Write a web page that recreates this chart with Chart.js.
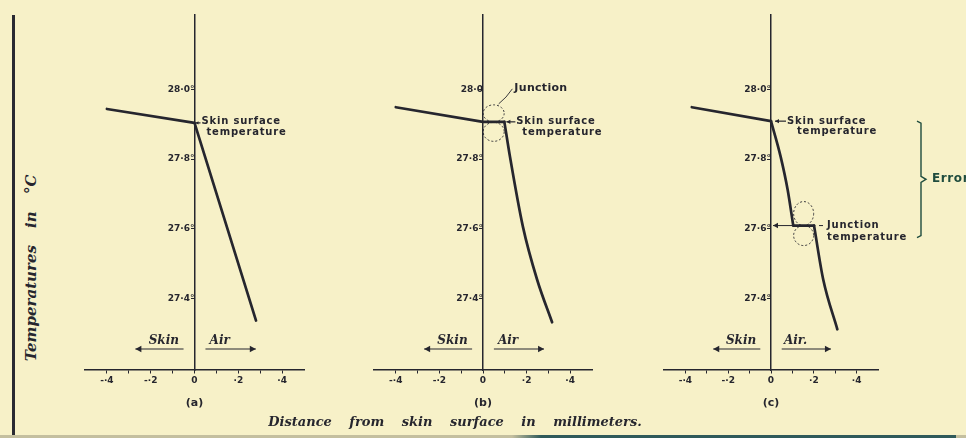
<!DOCTYPE html>
<html>
<head>
<meta charset="utf-8">
<script src="https://cdn.jsdelivr.net/npm/chart.js@4.4.0/dist/chart.umd.min.js"></script>
<style>
  html, body { margin: 0; padding: 0; }
  body { width: 966px; height: 438px; background: #f7f1c8; position: relative; overflow: hidden; }
  canvas.panel { position: absolute; left: 0; top: 0; }
  #frame { position: absolute; left: 12px; top: 15px; width: 3px; height: 423px; background: #2a2a32; }
  #edge { position: absolute; left: 0; top: 435px; width: 966px; height: 3px;
          background: linear-gradient(to right, #c4bf9f 0, #c4bf9f 53%, #2f5a5a 56%, #2f5a5a 99%, #c4bf9f 99%); }
  #ytitle { position: absolute; left: 31px; top: 268px; transform: translate(-50%, -50%) rotate(-90deg);
            font: italic bold 15px 'DejaVu Serif', serif; color: #26262e; white-space: nowrap; word-spacing: 12px; }
  #caption { position: absolute; left: 455px; top: 421px; transform: translate(-50%, -50%);
             font: italic bold 13px 'DejaVu Serif', serif; color: #26262e; white-space: nowrap; word-spacing: 13px; }
</style>
</head>
<body>
<div id="frame"></div>
<div id="ytitle">Temperatures in °C</div>
<canvas id="chartA" class="panel" width="966" height="438"></canvas>
<canvas id="chartB" class="panel" width="966" height="438"></canvas>
<canvas id="chartC" class="panel" width="966" height="438"></canvas>
<div id="caption">Distance from skin surface in millimeters.</div>
<div id="edge"></div>
<script>
// axes
const yMin = 27.194;
const yMax = 28.214;
const yTicks = [27.4, 27.6, 27.8, 28.0];
const yTickLabelsA = ['27·4°', '27·6°', '27·8°', '28·0°'];
const yTickLabelsB = ['27·4°', '27·6°', '27·8°', '28·0'];
const yTickLabelsC = ['27·4°', '27·6°', '27·8°', '28·0°'];
const xTicks = [-0.4, -0.3, -0.2, -0.1, 0, 0.1, 0.2, 0.3, 0.4];
const xTickLabels = ['-·4', '', '-·2', '', '0', '', '·2', '', '·4'];

// temperature profiles (distance in mm, temperature in °C)
const distA = [-0.4, 0, 0.281];
const tempA = [27.944, 27.904, 27.336];
const distB = [-0.4, 0, 0.098, 0.124, 0.183, 0.248, 0.317];
const tempB = [27.949, 27.907, 27.907, 27.806, 27.606, 27.454, 27.331];
const distC = [-0.37, 0, 0.045, 0.078, 0.104, 0.201, 0.244, 0.31];
const tempC = [27.949, 27.909, 27.807, 27.711, 27.609, 27.609, 27.454, 27.311];

// pieces of each profile: [first index, last index, curved?]
const piecesA = [[0, 2, false]];
const piecesB = [[0, 2, false], [2, 6, true]];
const piecesC = [[0, 1, false], [1, 4, true], [4, 5, false], [5, 7, true]];

const ink = '#26262e';
const teal = '#1f4c3e';
Chart.defaults.font.family = "'DejaVu Sans', sans-serif";

function arrow(ctx, x1, y, x2, head) {
  ctx.beginPath();
  ctx.moveTo(x1, y);
  ctx.lineTo(x2, y);
  ctx.stroke();
  const d = x2 > x1 ? -1 : 1;
  ctx.beginPath();
  ctx.moveTo(x2, y);
  ctx.lineTo(x2 + d * head, y - head * 0.55);
  ctx.lineTo(x2 + d * head, y + head * 0.55);
  ctx.closePath();
  ctx.fill();
}

function notes(panel) {
  return {
    id: 'notes' + panel,
    afterDraw(chart) {
      const ctx = chart.ctx;
      const px = v => chart.scales.x.getPixelForValue(v);
      const py = v => chart.scales.y.getPixelForValue(v);
      const axisY = py(yMin);
      ctx.save();
      ctx.fillStyle = ink;
      ctx.strokeStyle = ink;
      ctx.lineWidth = 1.2;
      ctx.textBaseline = 'middle';

      // skin / air arrows
      ctx.font = "italic bold 12px 'DejaVu Serif', serif";
      ctx.textAlign = 'center';
      ctx.fillText('Skin', px(-0.14), axisY - 29);
      ctx.fillText(panel === 'c' ? 'Air.' : 'Air', px(0.115), axisY - 29);
      arrow(ctx, px(-0.05), axisY - 21, px(-0.27), 6);
      arrow(ctx, px(0.05), axisY - 21, px(0.28), 6);

      // panel letter
      ctx.font = "bold 11px 'DejaVu Sans', sans-serif";
      ctx.fillText('(' + panel + ')', px(0), axisY + 33);

      ctx.textAlign = 'left';
      ctx.font = "bold 10px 'DejaVu Sans', sans-serif";
      ctx.letterSpacing = '0.8px';
      if (panel === 'a') {
        const y0 = py(tempA[1]);
        arrow(ctx, px(0) + 6, y0, px(0) + 1, 3);
        ctx.fillText('Skin surface', px(0) + 7, y0 - 1);
        ctx.fillText('temperature', px(0) + 12, y0 + 10);
      }
      if (panel === 'b') {
        const y0 = py(tempB[1]);
        const x1 = px(distB[2]);
        arrow(ctx, x1 + 11, y0, x1 + 2, 4);
        ctx.fillText('Skin surface', x1 + 12, y0);
        ctx.fillText('temperature', x1 + 18, y0 + 11);
        ctx.letterSpacing = '0.3px';
        ctx.font = "bold 11px 'DejaVu Sans', sans-serif";
        ctx.fillText('Junction', x1 + 10, y0 - 34);
        const cx = (px(0) + x1) / 2;
        ctx.lineWidth = 0.9;
        ctx.setLineDash([2, 2]);
        ctx.beginPath();
        ctx.ellipse(cx, y0 - 8.5, 10.5, 8.5, 0, 0, Math.PI * 2);
        ctx.stroke();
        ctx.beginPath();
        ctx.ellipse(cx, y0 + 10, 10.5, 9.5, 0, 0, Math.PI * 2);
        ctx.stroke();
        ctx.setLineDash([]);
        ctx.beginPath();
        ctx.moveTo(cx + 5, y0 - 18);
        ctx.quadraticCurveTo(x1 + 2, y0 - 24, x1 + 8, y0 - 33);
        ctx.stroke();
      }
      if (panel === 'c') {
        const y0 = py(tempC[1]);
        arrow(ctx, px(0) + 15, y0, px(0) + 4, 4);
        ctx.fillText('Skin surface', px(0) + 16, y0);
        ctx.fillText('temperature', px(0) + 26, y0 + 10);
        const yj = py(tempC[4]);
        const xj1 = px(distC[4]);
        const xj2 = px(distC[5]);
        ctx.lineWidth = 1;
        arrow(ctx, xj1, yj, px(0) + 2, 5);
        ctx.beginPath();
        ctx.moveTo(xj2 + 5, yj);
        ctx.lineTo(xj2 + 9, yj);
        ctx.stroke();
        ctx.fillText('Junction', xj2 + 13, yj);
        ctx.fillText('temperature', xj2 + 13, yj + 12);
        const cx = (xj1 + xj2) / 2;
        ctx.lineWidth = 0.9;
        ctx.setLineDash([2, 2]);
        ctx.beginPath();
        ctx.ellipse(cx, yj - 12, 10, 12, 0, 0, Math.PI * 2);
        ctx.stroke();
        ctx.beginPath();
        ctx.ellipse(cx, yj + 10, 10, 10, 0, 0, Math.PI * 2);
        ctx.stroke();
        ctx.setLineDash([]);
        // error brace
        const bx = 921;
        const mid = (y0 + yj + 12) / 2;
        ctx.strokeStyle = teal;
        ctx.fillStyle = teal;
        ctx.lineWidth = 1.4;
        ctx.beginPath();
        ctx.moveTo(bx - 4, y0);
        ctx.lineTo(bx, y0 + 2);
        ctx.lineTo(bx, mid - 3);
        ctx.lineTo(bx + 5, mid);
        ctx.lineTo(bx, mid + 3);
        ctx.lineTo(bx, yj + 10);
        ctx.lineTo(bx - 4, yj + 12);
        ctx.stroke();
        ctx.letterSpacing = '0.6px';
        ctx.font = "bold 12px 'DejaVu Sans', sans-serif";
        ctx.fillText('Error', bx + 11, mid);
      }
      ctx.restore();
    }
  };
}

function buildPanel(canvasId, panel, dist, temp, pieces, yLabels, left, right) {
  const datasets = pieces.map(([f, t, curved]) => ({
    data: dist.slice(f, t + 1).map((x, i) => ({ x: x, y: temp[f + i] })),
    borderColor: ink,
    borderWidth: 2.7,
    pointRadius: 0,
    tension: 0,
    cubicInterpolationMode: curved ? 'monotone' : 'default',
    borderCapStyle: 'round',
    borderJoinStyle: 'round',
    fill: false
  }));
  return new Chart(document.getElementById(canvasId), {
    type: 'line',
    data: { datasets: datasets },
    options: {
      responsive: false,
      animation: false,
      events: [],
      layout: { padding: { left: left, right: 966 - right, top: 15, bottom: 68 } },
      plugins: { legend: { display: false }, tooltip: { enabled: false } },
      scales: {
        x: {
          type: 'linear', min: -0.5, max: 0.5,
          position: { y: yMin },
          afterBuildTicks: s => { s.ticks = xTicks.map(v => ({ value: v })); },
          ticks: { autoSkip: false, maxRotation: 0, padding: 2, color: ink,
                   font: { size: 9, weight: 'bold' }, callback: (v, i) => xTickLabels[i] },
          grid: { drawOnChartArea: false, tickLength: 3, color: ink, lineWidth: 1 },
          border: { color: ink, width: 1.5 }
        },
        y: {
          type: 'linear', min: yMin, max: yMax,
          position: { x: 0 },
          afterBuildTicks: s => { s.ticks = yTicks.map(v => ({ value: v })); },
          ticks: { padding: 1, color: ink, font: { size: 9, weight: 'bold' },
                   callback: (v, i) => yLabels[i] },
          grid: { drawOnChartArea: false, tickLength: 3, color: ink, lineWidth: 1 },
          border: { color: ink, width: 1.5 }
        }
      }
    },
    plugins: [notes(panel)]
  });
}

buildPanel('chartA', 'a', distA, tempA, piecesA, yTickLabelsA, 85, 304);
buildPanel('chartB', 'b', distB, tempB, piecesB, yTickLabelsB, 374, 592);
buildPanel('chartC', 'c', distC, tempC, piecesC, yTickLabelsC, 664, 878);
</script>
</body>
</html>
